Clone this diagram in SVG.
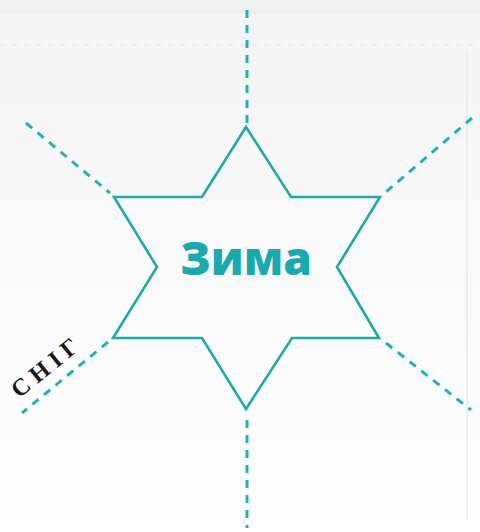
<svg xmlns="http://www.w3.org/2000/svg" width="480" height="532" viewBox="0 0 480 532">
  <defs>
    <linearGradient id="bg" x1="0" y1="0" x2="0" y2="1">
      <stop offset="0" stop-color="#f4f4f5"/>
      <stop offset="0.5" stop-color="#f9f9f9"/>
      <stop offset="1" stop-color="#ffffff"/>
    </linearGradient>
  </defs>
  <style>
    .dash { stroke: #1fb3b5; stroke-width: 3; stroke-dasharray: 8 7; fill: none; }
    .star { stroke: #1fa9ab; stroke-width: 2.6; fill: none; stroke-linejoin: miter; }
    .title { font-family: "Open Sans", "Noto Sans", sans-serif; font-weight: 800; font-size: 46px; fill: #1ba9ad; }
    .label { font-family: "Liberation Serif", "DejaVu Serif", serif; font-weight: bold; font-size: 24px; fill: #1a1a1a; letter-spacing: 6px; }
    .faint { stroke: #e6e6e8; stroke-width: 1.2; fill: none; }
  </style>
  <rect x="0" y="0" width="480" height="532" fill="url(#bg)"/>
  <rect x="0" y="0" width="480" height="14" fill="#efeff0"/>
  <line class="faint" x1="0" y1="45" x2="480" y2="45" stroke-dasharray="6 6"/>
  <line class="faint" x1="467" y1="50" x2="467" y2="520"/>
  <g id="connectors">
    <line class="dash" x1="247" y1="10" x2="247" y2="123"/>
    <line class="dash" x1="247" y1="420" x2="247" y2="528"/>
    <line class="dash" x1="26" y1="123" x2="110" y2="193"/>
    <line class="dash" x1="472" y1="118" x2="386" y2="192"/>
    <line class="dash" x1="386" y1="343" x2="471" y2="410"/>
    <line class="dash" x1="108" y1="342" x2="22" y2="413"/>
  </g>
  <g id="star">
    <polygon class="star" points="246,127 291,197 380,197 337,267 379,338 292,338 246,409 202,338 113,338 157,267 114,197 202,197"/>
    <text class="title" x="246" y="275" text-anchor="middle">Зима</text>
  </g>
  <g id="label-snig">
    <text class="label" x="52" y="372" text-anchor="middle" transform="rotate(-39 52 372)">СНІГ</text>
  </g>
</svg>
